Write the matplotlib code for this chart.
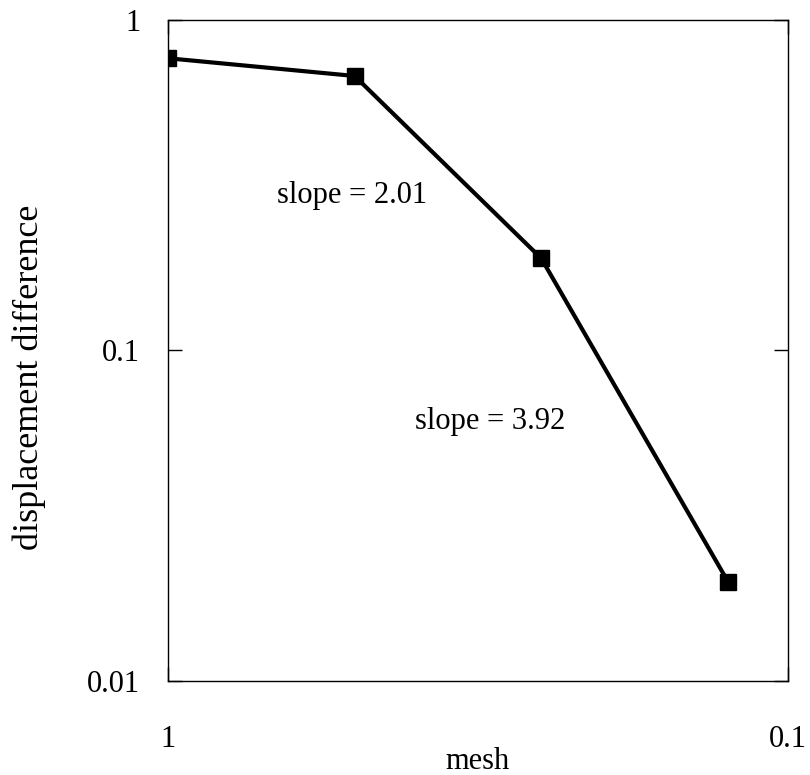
import matplotlib
matplotlib.use("Agg")
import matplotlib.pyplot as plt
from matplotlib.ticker import FixedLocator, FixedFormatter, NullLocator

plt.rcParams['font.family'] = ['Liberation Serif', 'DejaVu Serif']

# mesh size vs. displacement difference (convergence study)
mesh = [1.0, 0.5, 0.25, 0.125]
disp_diff = [0.766, 0.677, 0.190, 0.020]

x_ticks = [1, 0.1]
x_tick_labels = ["1", "0.1"]
y_ticks = [0.01, 0.1, 1]
y_tick_labels = ["0.01", "0.1", "1"]

slope_labels = ["slope = 2.01", "slope = 3.92"]

fig = plt.figure(figsize=(8.1, 7.75), dpi=100)
ax = fig.add_axes([0.2074, 0.1213, 0.7654, 0.8529])

ax.plot(mesh, disp_diff, color='black', linewidth=3, marker='s',
        markersize=11, markerfacecolor='black', markeredgecolor='black')

ax.set_xscale('log')
ax.set_yscale('log')
ax.set_xlim(1, 0.1)
ax.set_ylim(0.01, 1)

ax.xaxis.set_major_locator(FixedLocator(x_ticks))
ax.xaxis.set_major_formatter(FixedFormatter(x_tick_labels))
ax.yaxis.set_major_locator(FixedLocator(y_ticks))
ax.yaxis.set_major_formatter(FixedFormatter(y_tick_labels))
ax.xaxis.set_minor_locator(NullLocator())
ax.yaxis.set_minor_locator(NullLocator())

ax.tick_params(axis='both', which='major', direction='in', length=10,
               width=1, labelsize=22, top=True, right=True)
ax.tick_params(axis='x', pad=32)
ax.tick_params(axis='y', pad=20)

for sp in ax.spines.values():
    sp.set_linewidth(1)

ax.set_xlabel('mesh', fontsize=22)
ax.xaxis.set_label_coords(0.499, -0.1)
ax.set_ylabel('displacement difference', fontsize=26)
ax.yaxis.set_label_coords(-0.196, 0.46)

ax.text(0.297, 0.735, slope_labels[0], transform=ax.transAxes,
        fontsize=22, ha='center', va='center')
ax.text(0.519, 0.392, slope_labels[1], transform=ax.transAxes,
        fontsize=22, ha='center', va='center')

fig.savefig('out.png', dpi=100)
